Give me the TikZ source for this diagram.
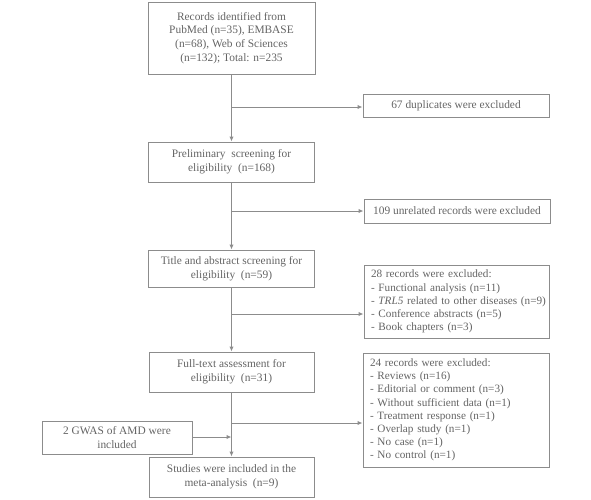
\documentclass[tikz,border=0pt]{standalone}
\usepackage{fontspec}
\setmainfont{Liberation Serif}
\usetikzlibrary{arrows.meta}
\definecolor{txtgray}{HTML}{646464}
\definecolor{lngray}{HTML}{8C8C8C}
\begin{document}
\begin{tikzpicture}[x=1pt,y=-1pt,
  box/.style={draw=lngray,line width=1pt,text=txtgray,align=center,inner sep=2pt,
    font=\fontsize{11.4}{13.7}\selectfont},
  lbox/.style={box,align=left,inner xsep=7pt,font=\fontsize{11.2}{13.2}\selectfont},
  arr/.style={draw=lngray,line width=1pt,-{Latex[length=5pt,width=4.5pt]}}]
\useasboundingbox (0,0) rectangle (591,499);
% main column
\node[box,minimum width=167pt,minimum height=72pt] (b1) at (231.5,38)
  {Records identified from\\PubMed (n=35), EMBASE\\(n=68), Web of Sciences\\(n=132); Total: n=235};
\node[box,minimum width=166pt,minimum height=40pt] (b2) at (231.5,162)
  {Preliminary\ \ screening for\\eligibility\ \ (n=168)};
\node[box,minimum width=166pt,minimum height=37pt] (b3) at (231.5,268.5)
  {Title and abstract screening for\\eligibility\ \ (n=59)};
\node[box,minimum width=165pt,minimum height=40pt] (b4) at (231.5,372)
  {Full-text assessment for\\eligibility\ \ (n=31)};
\node[box,minimum width=165pt,minimum height=40pt] (b5) at (231.5,477)
  {Studies were included in the\\meta-analysis\ \ (n=9)};
% side boxes
\node[box,minimum width=186pt,minimum height=23pt] (d1) at (456,105.5)
  {67 duplicates were excluded};
\node[box,minimum width=186pt,minimum height=24pt] (d2) at (457,211)
  {109 unrelated records were excluded};
\node[lbox,text width=171pt,minimum height=73pt] (d3) at (456.5,301.5)
  {28 records were excluded:\\- Functional analysis (n=11)\\\mbox{- \textit{TRL5} related to other diseases (n=9)}\\- Conference abstracts (n=5)\\- Book chapters (n=3)};
\node[lbox,text width=172pt,minimum height=114pt] (d4) at (456,410)
  {24 records were excluded:\\- Reviews (n=16)\\- Editorial or comment (n=3)\\- Without sufficient data (n=1)\\- Treatment response (n=1)\\- Overlap study (n=1)\\- No case (n=1)\\- No control (n=1)};
\node[box,minimum width=150pt,minimum height=33pt] (g) at (117,437.5)
  {2 GWAS of AMD were\\included};
% junctions
\coordinate (j1) at (231.5,107);
\coordinate (j2) at (231.5,211);
\coordinate (j3) at (231.5,314);
\coordinate (j4) at (231.5,423);
\coordinate (j5) at (231.5,437);
% connectors
\draw[arr] (b1) -- (b2);
\draw[arr] (b2) -- (b3);
\draw[arr] (b3) -- (b4);
\draw[arr] (b4) -- (b5);
\draw[arr] (j1) -- (j1 -| d1.west);
\draw[arr] (j2) -- (j2 -| d2.west);
\draw[arr] (j3) -- (j3 -| d3.west);
\draw[arr] (j4) -- (j4 -| d4.west);
\draw[arr] (g.east |- j5) -- (j5);
\end{tikzpicture}
\end{document}
